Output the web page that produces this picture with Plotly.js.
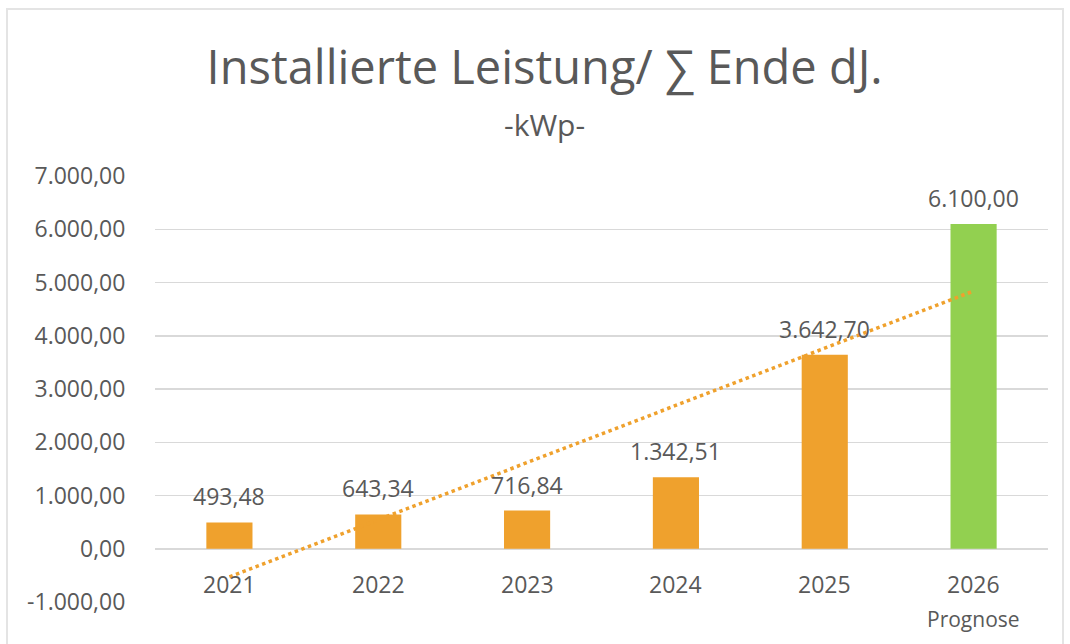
<!DOCTYPE html>
<html>
<head>
<meta charset="utf-8">
<script src="https://cdn.plot.ly/plotly-3.0.1.min.js"></script>
<style>
  html, body { margin: 0; padding: 0; background: #ffffff; }
  #wrap { position: relative; width: 1070px; height: 644px; overflow: hidden; background: #ffffff; }
  #frame { position: absolute; left: 6px; top: 8px; width: 1058px; height: 660px; border: 2px solid #e4e4e4; box-sizing: border-box; }
  #chart { position: absolute; left: 0; top: 0; width: 1070px; height: 644px; }
</style>
</head>
<body>
<div id="wrap">
  <div id="frame"></div>
  <div id="chart"></div>
</div>
<script>
// ---- data ----
const categories = ['2021', '2022', '2023', '2024', '2025', '2026'];
const values = [493.48, 643.34, 716.84, 1342.51, 3642.70, 6100.00];
const forecastCategory = '2026';
const forecastNote = 'Prognose';
const trendCategories = ['2021', '2026'];
const trendValues = [-530, 4840];
const yTickValues = [-1000, 0, 1000, 2000, 3000, 4000, 5000, 6000, 7000];
const titleText = 'Installierte Leistung/ \u2211 Ende dJ.';
const subtitleText = '-kWp-';

// ---- styles ----
const ORANGE = '#EFA12D';
const GREEN = '#92D050';
const TEXT = '#595959';
const GRID = '#D9D9D9';
const FONT = 'Open Sans, sans-serif';

const barColors = categories.map(c => c === forecastCategory ? GREEN : ORANGE);

const bars = {
  type: 'bar', x: categories, y: values,
  marker: { color: barColors },
  hoverinfo: 'skip', showlegend: false
};

const trend = {
  type: 'scatter', mode: 'lines', x: trendCategories, y: trendValues,
  line: { color: ORANGE, width: 3.5, dash: 'dot' },
  hoverinfo: 'skip', showlegend: false, cliponaxis: false
};

// German number format with a plain hyphen-minus, as in the reference
const fmt = v => v.toLocaleString('de-DE', { minimumFractionDigits: 2, maximumFractionDigits: 2 });

// annotations on a category axis take the category index (year strings would be read as numbers)
const annotations = [];
categories.forEach((c, i) => {
  annotations.push({
    x: i, y: values[i], xref: 'x', yref: 'y', text: fmt(values[i]),
    showarrow: false, yanchor: 'bottom', yshift: 8,
    font: { family: FONT, size: 23, color: TEXT }
  });
  annotations.push({
    x: i, y: 0, xref: 'x', yref: 'y', text: c,
    showarrow: false, yanchor: 'top', yshift: -17,
    font: { family: FONT, size: 23, color: TEXT }
  });
});
annotations.push({
  x: categories.indexOf(forecastCategory), y: -1000, xref: 'x', yref: 'y', text: forecastNote,
  showarrow: false, yanchor: 'top', yshift: -1,
  font: { family: FONT, size: 21, color: TEXT }
});
annotations.push({
  x: 0.4367, y: 1.122, xref: 'paper', yref: 'paper', text: subtitleText,
  showarrow: false, xanchor: 'center', yanchor: 'middle',
  font: { family: FONT, size: 30, color: TEXT }
});

const layout = {
  width: 1070, height: 644,
  margin: { l: 155, r: 22, t: 176, b: 42 },
  paper_bgcolor: 'rgba(0,0,0,0)', plot_bgcolor: 'rgba(0,0,0,0)',
  separators: ',.',
  bargap: 0.69,
  font: { family: FONT, color: TEXT },
  title: {
    text: titleText,
    font: { family: FONT, size: 47, color: TEXT },
    x: 0.509, xref: 'container', xanchor: 'center',
    y: 0.895, yref: 'container', yanchor: 'middle'
  },
  xaxis: {
    type: 'category',
    range: [-0.5, categories.length - 0.5],
    showgrid: false, showline: false, zeroline: false,
    showticklabels: false, ticks: '', fixedrange: true
  },
  yaxis: {
    range: [-1000, 7000],
    tickmode: 'array',
    tickvals: yTickValues,
    ticktext: yTickValues.map(fmt),
    showgrid: true, gridcolor: GRID, gridwidth: 1.5,
    zeroline: true, zerolinecolor: GRID, zerolinewidth: 1.5,
    showline: false,
    ticks: 'outside', ticklen: 24, tickcolor: 'rgba(0,0,0,0)',
    tickfont: { family: FONT, size: 23, color: TEXT },
    fixedrange: true
  },
  annotations: annotations
};

Plotly.newPlot('chart', [bars, trend], layout, { displayModeBar: false, staticPlot: true });
</script>
</body>
</html>
